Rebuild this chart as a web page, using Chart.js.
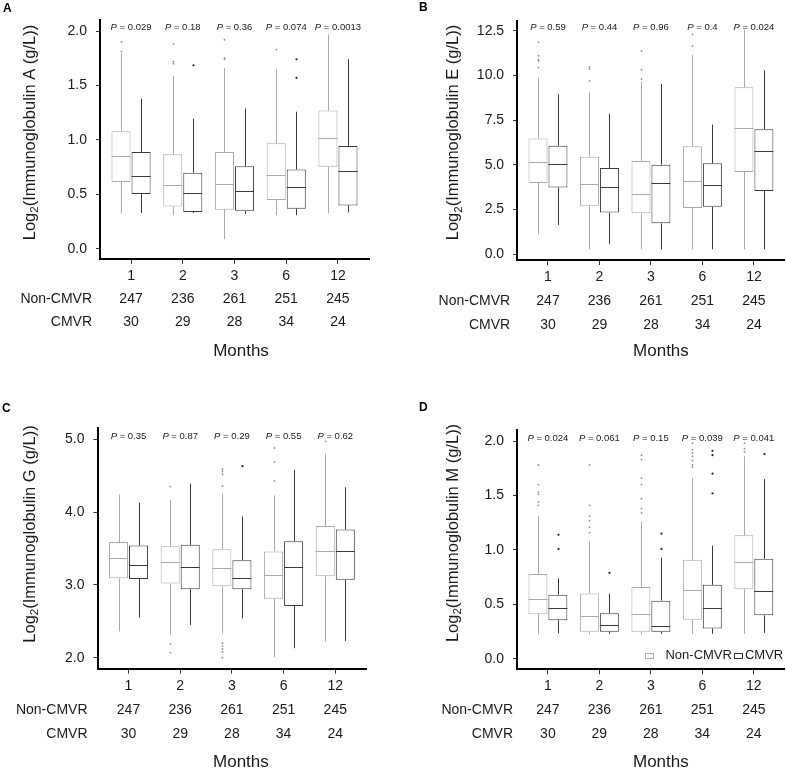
<!DOCTYPE html>
<html><head><meta charset="utf-8">
<script src="https://cdn.jsdelivr.net/npm/chart.js@4.4.0/dist/chart.umd.min.js"></script>
<style>
html,body{margin:0;padding:0;background:#fff;}
body{width:786px;height:769px;position:relative;overflow:hidden;font-family:'Liberation Sans',Arial,sans-serif;}
.pn{position:absolute;}
.lt{position:absolute;font:bold 12px 'Liberation Sans',Arial,sans-serif;color:#000;line-height:12px;}
</style></head>
<body>
<div class="pn" style="left:0;top:0;width:393px;height:385px;"><canvas id="cA" width="393" height="385"></canvas></div>
<div class="pn" style="left:393px;top:0;width:393px;height:385px;"><canvas id="cB" width="393" height="385"></canvas></div>
<div class="pn" style="left:0;top:385px;width:393px;height:400px;"><canvas id="cC" width="393" height="400"></canvas></div>
<div class="pn" style="left:393px;top:385px;width:393px;height:400px;"><canvas id="cD" width="393" height="400"></canvas></div>
<div class="lt" style="left:3px;top:2px;">A</div>
<div class="lt" style="left:419px;top:1px;">B</div>
<div class="lt" style="left:2px;top:402px;">C</div>
<div class="lt" style="left:419px;top:401px;">D</div>
<script>
// ---------------- data ----------------
const months = ['1', '2', '3', '6', '12'];
const nNonCMVR = [247, 236, 261, 251, 245];
const nCMVR = [30, 29, 28, 34, 24];

// A: IgA
const igaP = ['0.029', '0.18', '0.36', '0.074', '0.0013'];
const igaTicks = [0, 0.5, 1.0, 1.5, 2.0];
const igaNonQ1 = [0.615, 0.39, 0.36, 0.45, 0.755];
const igaNonMed = [0.85, 0.585, 0.60, 0.68, 1.015];
const igaNonQ3 = [1.08, 0.87, 0.89, 0.97, 1.27];
const igaNonLo = [0.33, 0.31, 0.09, 0.31, 0.33];
const igaNonHi = [1.79, 1.59, 1.66, 1.65, 1.97];
const igaNonOut = [[1.90, 1.81], [1.88, 1.72, 1.70], [1.92, 1.75, 1.74], [1.83], []];
const igaCQ1 = [0.505, 0.34, 0.35, 0.37, 0.40];
const igaCMed = [0.67, 0.51, 0.53, 0.57, 0.72];
const igaCQ3 = [0.89, 0.70, 0.76, 0.73, 0.945];
const igaCLo = [0.33, 0.33, 0.32, 0.31, 0.335];
const igaCHi = [1.38, 1.195, 1.29, 1.26, 1.74];
const igaCOut = [[], [1.685], [], [1.74, 1.57], []];

// B: IgE
const igeP = ['0.59', '0.44', '0.96', '0.4', '0.024'];
const igeTicks = [0, 2.5, 5.0, 7.5, 10.0, 12.5];
const igeNonQ1 = [3.99, 2.72, 2.29, 2.59, 4.60];
const igeNonMed = [5.16, 3.91, 3.37, 4.12, 7.08];
const igeNonQ3 = [6.47, 5.46, 5.22, 6.04, 9.34];
const igeNonLo = [1.13, 0.28, 0.28, 0.28, 0.28];
const igeNonHi = [9.88, 9.04, 9.65, 11.15, 12.55];
const igeNonOut = [[11.85, 11.1, 10.88, 10.8, 10.44], [10.46, 10.35, 9.69], [11.37, 10.32, 9.8], [12.3, 11.65], []];
const igeCQ1 = [3.73, 2.33, 1.73, 2.66, 3.54];
const igeCMed = [5.03, 3.75, 4.00, 3.86, 5.78];
const igeCQ3 = [6.07, 4.83, 5.01, 5.09, 6.99];
const igeCLo = [1.64, 0.56, 0.28, 0.28, 0.28];
const igeCHi = [8.95, 7.86, 9.52, 7.25, 10.29];
const igeCOut = [[], [], [], [], []];

// C: IgG
const iggP = ['0.35', '0.87', '0.29', '0.55', '0.62'];
const iggTicks = [2.0, 3.0, 4.0, 5.0];
const iggNonQ1 = [3.09, 3.02, 2.98, 2.81, 3.12];
const iggNonMed = [3.37, 3.32, 3.23, 3.14, 3.47];
const iggNonQ3 = [3.59, 3.53, 3.49, 3.46, 3.81];
const iggNonLo = [2.36, 2.31, 2.33, 2.01, 2.22];
const iggNonHi = [4.24, 4.17, 4.25, 4.23, 4.80];
const iggNonOut = [[], [4.35, 2.19, 2.07], [4.59, 4.56, 4.52, 4.36, 2.20, 2.16, 2.12, 2.08, 2.00], [4.88, 4.69, 4.43], [4.97]];
const iggCQ1 = [3.08, 2.94, 2.94, 2.71, 3.07];
const iggCMed = [3.27, 3.24, 3.10, 3.25, 3.47];
const iggCQ3 = [3.54, 3.55, 3.34, 3.60, 3.76];
const iggCLo = [2.55, 2.45, 2.54, 2.13, 2.23];
const iggCHi = [4.13, 4.39, 3.94, 4.58, 4.34];
const iggCOut = [[], [], [4.63], [], []];

// D: IgM
const igmP = ['0.024', '0.061', '0.15', '0.039', '0.041'];
const igmTicks = [0, 0.5, 1.0, 1.5, 2.0];
const igmNonQ1 = [0.41, 0.25, 0.25, 0.36, 0.64];
const igmNonMed = [0.55, 0.39, 0.41, 0.63, 0.89];
const igmNonQ3 = [0.78, 0.60, 0.66, 0.91, 1.135];
const igmNonLo = [0.23, 0.23, 0.23, 0.23, 0.23];
const igmNonHi = [1.31, 1.08, 1.26, 1.66, 1.86];
const igmNonOut = [[1.78, 1.60, 1.53, 1.51, 1.44, 1.41], [1.78, 1.41, 1.31, 1.27, 1.21, 1.16], [1.87, 1.83, 1.66, 1.60, 1.47, 1.38, 1.34], [1.98, 1.92, 1.89, 1.86, 1.82, 1.78, 1.76], [1.98, 1.93, 1.90]];
const igmCQ1 = [0.355, 0.25, 0.25, 0.28, 0.40];
const igmCMed = [0.465, 0.31, 0.30, 0.465, 0.62];
const igmCQ3 = [0.59, 0.42, 0.535, 0.68, 0.92];
const igmCLo = [0.235, 0.23, 0.23, 0.23, 0.24];
const igmCHi = [0.74, 0.60, 0.93, 1.04, 1.65];
const igmCOut = [[1.14, 1.01], [0.79], [1.15, 1.01], [1.91, 1.87, 1.70, 1.52], [1.88]];

// ---------------- rendering ----------------
const FONT = "'Liberation Sans', Arial, sans-serif";
Chart.defaults.font.family = FONT;
Chart.defaults.color = '#1a1a1a';
const NON_COLOR = '#a9a9a9';
const C_COLOR = '#383838';

const boxPlugin = {
  id: 'boxExtras',
  afterDatasetsDraw(chart, args, o) {
    const ctx = chart.ctx, ys = chart.scales.y, xs = chart.scales.x, a = chart.chartArea;
    // medians, whiskers, outliers
    o.groups.forEach((g, di) => {
      const meta = chart.getDatasetMeta(di);
      ctx.save();
      ctx.strokeStyle = g.color;
      ctx.lineWidth = 1;
      meta.data.forEach((bar, i) => {
        const x = Math.round(bar.x) + 0.5;
        const hw = bar.width / 2;
        const yq1 = ys.getPixelForValue(g.q1[i]);
        const yq3 = ys.getPixelForValue(g.q3[i]);
        const ym = Math.round(ys.getPixelForValue(g.med[i])) + 0.5;
        ctx.beginPath();
        ctx.moveTo(x, Math.min(yq1, yq3)); ctx.lineTo(x, ys.getPixelForValue(g.hi[i]));
        ctx.moveTo(x, Math.max(yq1, yq3)); ctx.lineTo(x, ys.getPixelForValue(g.lo[i]));
        ctx.moveTo(bar.x - hw, ym); ctx.lineTo(bar.x + hw, ym);
        ctx.stroke();
        ctx.fillStyle = g.dot;
        g.out[i].forEach(v => {
          ctx.beginPath();
          ctx.arc(x, ys.getPixelForValue(v), g.r, 0, Math.PI * 2);
          ctx.fill();
        });
      });
      ctx.restore();
    });
    ctx.save();
    // P values
    ctx.fillStyle = '#222';
    ctx.textBaseline = 'middle';
    ctx.textAlign = 'left';
    o.pvals.forEach((p, i) => {
      const cx = xs.getPixelForValue(i + 1);
      ctx.font = 'italic 9.5px ' + FONT;
      const wP = ctx.measureText('P').width;
      ctx.font = '9.5px ' + FONT;
      const rest = ' = ' + p;
      const wR = ctx.measureText(rest).width;
      const sx = cx - (wP + wR) / 2;
      const yy = a.top + o.pOffset;
      ctx.font = 'italic 9.5px ' + FONT;
      ctx.fillText('P', sx, yy);
      ctx.font = '9.5px ' + FONT;
      ctx.fillText(rest, sx + wP, yy);
    });
    // row labels of counts
    const xo = chart.options.scales.x;
    const lh = o.rowLH;
    const base = xs.top + xo.grid.tickLength + xo.ticks.padding + lh / 2;
    ctx.font = '14px ' + FONT;
    ctx.fillStyle = '#1a1a1a';
    ctx.textAlign = 'right';
    o.rowLabels.forEach((t, k) => {
      ctx.fillText(t, a.left - o.rowGap, base + lh * (k + 1));
    });
    // x title
    ctx.textAlign = 'center';
    ctx.font = '17px ' + FONT;
    ctx.fillText(o.xTitle, (a.left + a.right) / 2 + o.xTitleDx, o.xTitleY);
    // y title with subscript
    ctx.save();
    ctx.translate(o.yTitleX, o.yTitleY);
    ctx.rotate(-Math.PI / 2);
    ctx.textAlign = 'left';
    ctx.textBaseline = 'middle';
    const big = '16.5px ' + FONT, small = '11.5px ' + FONT;
    ctx.font = big; const w1 = ctx.measureText(o.yTitle[0]).width;
    ctx.font = small; const w2 = ctx.measureText(o.yTitle[1]).width;
    ctx.font = big; const w3 = ctx.measureText(o.yTitle[2]).width;
    let sx = -(w1 + w2 + w3) / 2;
    ctx.font = big; ctx.fillText(o.yTitle[0], sx, 0); sx += w1;
    ctx.font = small; ctx.fillText(o.yTitle[1], sx, 5); sx += w2;
    ctx.font = big; ctx.fillText(o.yTitle[2], sx, 0);
    ctx.restore();
    // legend (inside plot, bottom right), laid out from the right edge
    if (o.legend) {
      ctx.font = '13px ' + FONT;
      ctx.textAlign = 'left';
      ctx.textBaseline = 'middle';
      const ly = a.bottom - o.legend.dy;
      const items = chart.data.datasets.map(d => ({t: d.label, c: d.borderColor}));
      let xr = a.right - o.legend.dr;
      for (let k = items.length - 1; k >= 0; k--) {
        const it = items[k];
        const tw = ctx.measureText(it.t).width;
        const tx = xr - tw;
        ctx.fillStyle = '#1a1a1a';
        ctx.fillText(it.t, tx, ly);
        const sqx = tx - o.legend.sqGap[k] - 8;
        ctx.strokeStyle = it.c; ctx.lineWidth = 1;
        ctx.strokeRect(Math.round(sqx) + 0.5, Math.round(ly - 2) + 0.5, 8, 5);
        xr = sqx - o.legend.gap;
      }
    }
    ctx.restore();
  }
};

function makePanel(id, geo, d) {
  const data = {
    datasets: [
      {label: 'Non-CMVR', data: d.nonQ1.map((v, i) => ({x: i + 1, y: [v, d.nonQ3[i]]})),
       backgroundColor: '#ffffff', borderColor: NON_COLOR, borderWidth: 1, borderSkipped: false},
      {label: 'CMVR', data: d.cQ1.map((v, i) => ({x: i + 1, y: [v, d.cQ3[i]]})),
       backgroundColor: '#ffffff', borderColor: C_COLOR, borderWidth: 1, borderSkipped: false}
    ]
  };
  const A = geo.area;
  return new Chart(document.getElementById(id), {
    type: 'bar',
    data,
    plugins: [boxPlugin],
    options: {
      responsive: false,
      animation: false,
      events: [],
      categoryPercentage: 0.775,
      barPercentage: 0.95,
      layout: {padding: {left: 0, top: A.t, right: geo.w - A.r, bottom: 0}},
      plugins: {
        legend: {display: false},
        tooltip: {enabled: false},
        boxExtras: {
          groups: [
            {q1: d.nonQ1, q3: d.nonQ3, med: d.nonMed, lo: d.nonLo, hi: d.nonHi, out: d.nonOut, color: NON_COLOR, dot: '#8c8c8c', r: 0.9},
            {q1: d.cQ1, q3: d.cQ3, med: d.cMed, lo: d.cLo, hi: d.cHi, out: d.cOut, color: C_COLOR, dot: '#222', r: 1.1}
          ],
          pvals: d.p,
          pOffset: geo.pOff,
          rowLabels: ['Non-CMVR', 'CMVR'],
          rowLH: geo.lh,
          rowGap: geo.rowGap,
          xTitle: 'Months',
          xTitleY: geo.monthsY,
          xTitleDx: geo.monthsDx,
          yTitle: ['Log', '2', d.yTitle],
          yTitleX: geo.ytx,
          yTitleY: geo.yty,
          legend: d.legend ? {dy: 14, dr: 1.5, gap: 2, sqGap: [12, 3]} : null
        }
      },
      scales: {
        x: {
          type: 'linear',
          min: 0.4, max: 5.6,
          offset: false,
          afterBuildTicks: s => { s.ticks = months.map((m, i) => ({value: i + 1})); },
          afterFit: s => { s.height = geo.h - A.b; },
          ticks: {
            padding: geo.xpad,
            maxRotation: 0, autoSkip: false,
            font: {size: 14, lineHeight: geo.lh + 'px'},
            color: '#1a1a1a',
            callback: v => { const i = Math.round(v) - 1; return [months[i], String(nNonCMVR[i]), String(nCMVR[i])]; }
          },
          grid: {display: true, drawOnChartArea: false, drawTicks: true, tickLength: 5, color: '#333', offset: false},
          border: {display: true, color: '#000', width: 2}
        },
        y: {
          type: 'linear',
          min: d.ymin, max: d.ymax,
          afterBuildTicks: s => { s.ticks = d.ticks.map(v => ({value: v})); },
          afterFit: s => { s.width = A.l; },
          ticks: {
            padding: 9,
            font: {size: 14},
            color: '#1a1a1a',
            callback: v => Number(v).toFixed(1)
          },
          grid: {display: true, drawOnChartArea: false, drawTicks: true, tickLength: 4, color: '#333'},
          border: {display: true, color: '#000', width: 2}
        }
      }
    }
  });
}

makePanel('cA', {w: 393, h: 385, area: {l: 100, r: 369, t: 20, b: 259}, lh: 23, xpad: 0.5, rowGap: 8, monthsY: 351.7, monthsDx: 6.5, ytx: 30, yty: 132.5, pOff: 7.3},
  {p: igaP, ticks: igaTicks, ymin: -0.092, ymax: 2.101, yTitle: '(Immunoglobulin A (g/L))',
   nonQ1: igaNonQ1, nonMed: igaNonMed, nonQ3: igaNonQ3, nonLo: igaNonLo, nonHi: igaNonHi, nonOut: igaNonOut,
   cQ1: igaCQ1, cMed: igaCMed, cQ3: igaCQ3, cLo: igaCLo, cHi: igaCHi, cOut: igaCOut});

makePanel('cB', {w: 393, h: 385, area: {l: 124.1, r: 391.8, t: 20.7, b: 260}, lh: 24, xpad: 0, rowGap: 7, monthsY: 351.7, monthsDx: 10, ytx: 60.8, yty: 132.5, pOff: 6.6},
  {p: igeP, ticks: igeTicks, ymin: -0.32, ymax: 13.06, yTitle: '(Immunoglobulin E (g/L))',
   nonQ1: igeNonQ1, nonMed: igeNonMed, nonQ3: igeNonQ3, nonLo: igeNonLo, nonHi: igeNonHi, nonOut: igeNonOut,
   cQ1: igeCQ1, cMed: igeCMed, cQ3: igeCQ3, cLo: igeCLo, cHi: igeCHi, cOut: igeCOut});

makePanel('cC', {w: 393, h: 400, area: {l: 97.5, r: 366.3, t: 43, b: 283.7}, lh: 24, xpad: 0, rowGap: 10, monthsY: 377.7, monthsDx: 9, ytx: 30, yty: 149, pOff: 8.7},
  {p: iggP, ticks: iggTicks, ymin: 1.849, ymax: 5.155, yTitle: '(Immunoglobulin G (g/L))',
   nonQ1: iggNonQ1, nonMed: iggNonMed, nonQ3: iggNonQ3, nonLo: iggNonLo, nonHi: iggNonHi, nonOut: iggNonOut,
   cQ1: iggCQ1, cMed: iggCMed, cQ3: iggCQ3, cLo: iggCLo, cHi: iggCHi, cOut: iggCOut});

makePanel('cD', {w: 393, h: 400, area: {l: 124, r: 391.7, t: 45, b: 284.3}, lh: 24, xpad: 0, rowGap: 4, monthsY: 377.7, monthsDx: 10, ytx: 60, yty: 148, pOff: 8.3},
  {p: igmP, ticks: igmTicks, ymin: -0.095, ymax: 2.101, yTitle: '(Immunoglobulin M (g/L))', legend: true,
   nonQ1: igmNonQ1, nonMed: igmNonMed, nonQ3: igmNonQ3, nonLo: igmNonLo, nonHi: igmNonHi, nonOut: igmNonOut,
   cQ1: igmCQ1, cMed: igmCMed, cQ3: igmCQ3, cLo: igmCLo, cHi: igmCHi, cOut: igmCOut});
</script>
</body></html>
